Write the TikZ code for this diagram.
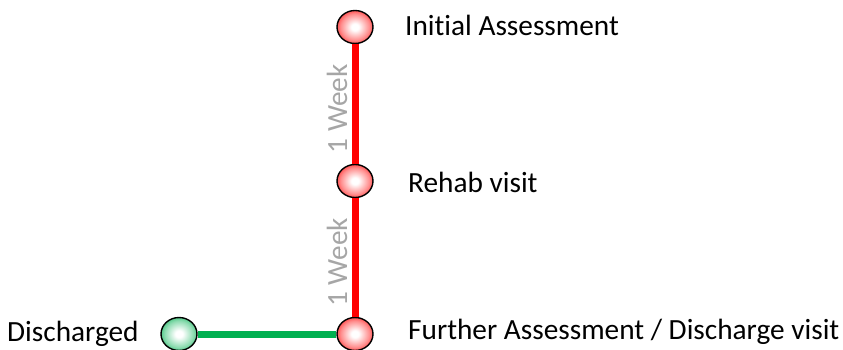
\documentclass[tikz,border=0pt]{standalone}
\usepackage{fontspec}
\setmainfont[Ligatures=NoCommon]{Carlito}
\usepackage{tikz}
\usetikzlibrary{shapes.geometric}

\definecolor{offred}{RGB}{255,0,0}
\definecolor{offgreen}{RGB}{0,176,80}
\definecolor{weekgray}{RGB}{166,166,166}

\pgfdeclareradialshading{redglow}{\pgfpoint{0bp}{0bp}}{color(0bp)=(white);
  color(5bp)=(white); color(20bp)=(offred!45!white); color(33bp)=(offred);
  color(50bp)=(offred)}
\pgfdeclareradialshading{greenglow}{\pgfpoint{0bp}{0bp}}{color(0bp)=(white);
  color(5bp)=(white); color(20bp)=(offgreen!45!white); color(33bp)=(offgreen);
  color(50bp)=(offgreen)}

\tikzset{
  stop/.style={ellipse, draw=black, line width=1.4pt, inner sep=0pt,
    minimum width=36pt, minimum height=33pt, shading=#1},
  stop/.default=redglow,
  lbl/.style={anchor=base west, inner sep=0pt, font=\fontsize{29.3}{35}\selectfont},
  wk/.style={xshift=-18pt, yshift=-5pt, rotate=90, inner sep=0pt,
    text=weekgray, font=\fontsize{29.3}{35}\selectfont},
}

\begin{document}
\begin{tikzpicture}[x=1pt, y=-1pt]
  \useasboundingbox (0,0) rectangle (843,350);
  % stops along the pathway
  \node[stop] (init) at (355, 27) {};
  \node[stop] (rehab) at (355, 181) {};
  \node[stop] (further) at (355, 334) {};
  \node[stop=greenglow] (disch) at (179, 334) {};
  % links
  \draw[offred, line width=7pt] (init) -- node[wk] {1 Week} (rehab);
  \draw[offred, line width=7pt] (rehab) -- node[wk] {1 Week} (further);
  \draw[offgreen, line width=7pt] (disch) -- (further);
  % labels
  \node[lbl] (tinit) at (405, 36) {Initial Assessment};
  \node[lbl] (trehab) at (408, 192) {Rehab visit};
  \node[lbl] (tfurther) at (408, 339) {Further Assessment / Discharge visit};
  \node[lbl] (tdisch) at (7, 341) {Discharged};
\end{tikzpicture}
\end{document}
